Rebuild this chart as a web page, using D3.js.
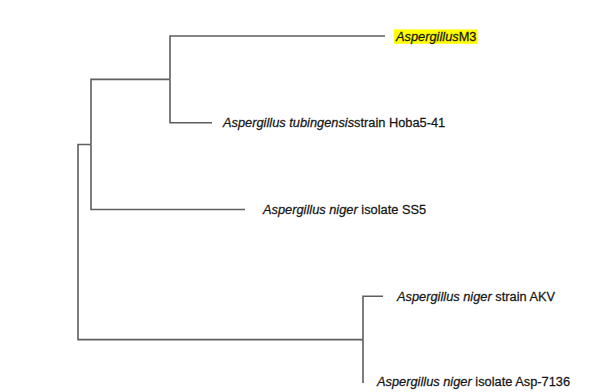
<!DOCTYPE html>
<html>
<head>
<meta charset="utf-8">
<script src="https://cdn.jsdelivr.net/npm/d3@7"></script>
<style>
  html, body { margin: 0; padding: 0; background: #fff; }
  svg { display: block; }
  .lbl { font-family: "Liberation Sans", Arial, sans-serif; font-size: 13.5px; fill: #151515; stroke: #151515; stroke-width: 0.25px; }
</style>
</head>
<body>
<svg id="tree" width="607" height="392"></svg>
<script>
// Newick-like topology: ((M3, Hoba5-41), SS5), (AKV, Asp-7136)
const leafNames = ["M3", "Hoba5-41", "SS5", "AKV", "Asp-7136"];
// species part (italic) and strain part (upright) of each tip label
const leafSpecies = ["Aspergillus", "Aspergillus tubingensis", "Aspergillus niger", "Aspergillus niger", "Aspergillus niger"];
const leafStrain = ["M3", "strain Hoba5-41", " isolate SS5", " strain AKV", " isolate Asp-7136"];
// branch lengths (substitutions per site)
const branchNodes = ["root", "A", "B", "M3", "Hoba5-41", "SS5", "C", "AKV", "Asp-7136"];
const branchParents = ["", "root", "A", "B", "B", "A", "root", "C", "C"];
const branchLengths = [0, 0.013, 0.079, 0.215, 0.042, 0.154, 0.285, 0.020, 0.000];
const highlighted = ["M3"];

const svg = d3.select("#tree");

const table = branchNodes.map((id, i) => ({ id, parent: branchParents[i] || null, len: branchLengths[i] }));
const root = d3.stratify().id(d => d.id).parentId(d => d.parent)(table);

// keep children in listed order
root.each(n => { if (n.children) n.children.sort((a, b) => branchNodes.indexOf(a.id) - branchNodes.indexOf(b.id)); });

// cumulative depth
root.eachBefore(n => { n.depth_len = n.parent ? n.parent.depth_len + n.data.len : 0; });
const maxDepth = d3.max(root.leaves(), d => d.depth_len);

const x = d3.scaleLinear().domain([0, maxDepth]).range([78, 385]);
const y = d3.scalePoint().domain(leafNames).range([36, 383]);

root.eachAfter(n => {
  n.py = n.children ? d3.mean([n.children[0].py, n.children[n.children.length - 1].py]) : y(n.id);
  n.px = x(n.depth_len);
});

const g = svg.append("g");

// elbow connectors: vertical at parent x, horizontal to child x
root.descendants().filter(n => n.parent).forEach(n => {
  g.append("path")
    .attr("d", `M${n.parent.px},${n.parent.py}V${n.py}H${n.px}`)
    .attr("fill", "none")
    .attr("stroke", "#5e5e5e")
    .attr("stroke-width", 1.6);
});

// tip labels, slightly condensed
const offsets = { "M3": 11, "Hoba5-41": 11, "SS5": 18, "AKV": 14, "Asp-7136": 14 };
root.leaves().forEach(n => {
  const i = leafNames.indexOf(n.id);
  const lx = n.px + offsets[n.id];
  const ly = n.id === "Asp-7136" ? n.py - 2 : n.py;
  const lg = g.append("g").attr("transform", `translate(${lx},${ly}) scale(0.95,1)`);
  const t = lg.append("text")
    .attr("class", "lbl")
    .attr("x", 0)
    .attr("y", 0)
    .attr("dy", "0.35em");
  t.append("tspan").attr("font-style", "italic").text(leafSpecies[i]);
  t.append("tspan").attr("font-style", "normal").attr("xml:space", "preserve").text(leafStrain[i]);
  if (highlighted.includes(n.id)) {
    const bb = t.node().getBBox();
    lg.insert("rect", "text")
      .attr("x", bb.x - 1)
      .attr("y", bb.y + 1)
      .attr("width", bb.width + 2)
      .attr("height", bb.height - 1)
      .attr("fill", "#ffff00");
  }
});
</script>
</body>
</html>
